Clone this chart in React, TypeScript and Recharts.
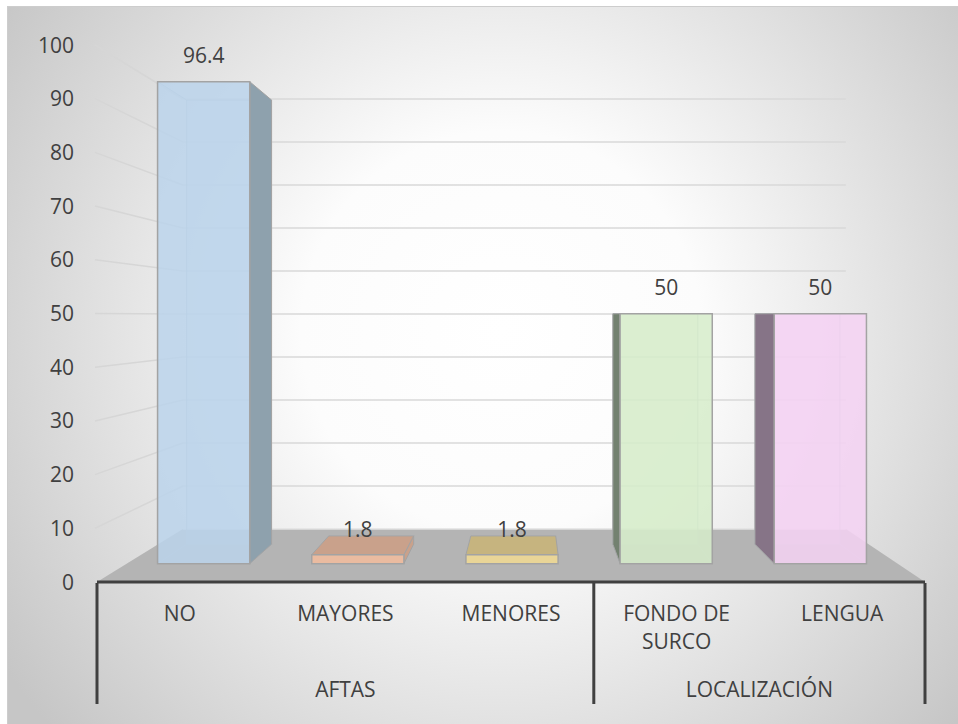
import React from 'react';
import { BarChart, Bar, XAxis, YAxis, CartesianGrid } from 'recharts';

// ---- data ----
const CATEGORIES = ['NO', 'MAYORES', 'MENORES', 'FONDO DE SURCO', 'LENGUA'];
const GROUPS = ['AFTAS', 'AFTAS', 'AFTAS', 'LOCALIZACIÓN', 'LOCALIZACIÓN'];
const VALUES = [96.4, 1.8, 1.8, 50, 50];
const Y_TICKS = [0, 10, 20, 30, 40, 50, 60, 70, 80, 90, 100];

// ---- styles ----
const FRONT_COLORS = ['#bbd4eb', '#f3bc9c', '#f2da92', '#d6ecca', '#f4d2f3'];
const SHADE_COLORS = ['#8ea1ad', '#c9a18b', '#c6b47f', '#738170', '#867487'];
const TEXT = '#404040';
const FONT = '"Open Sans", "Noto Sans", sans-serif';
const FS = 21;

const data = CATEGORIES.map((c, i) => ({ category: c, group: GROUPS[i], value: VALUES[i] }));

// layout / perspective
const W = 958;
const H = 724;
const PLOT_LEFT = 97;
const PLOT_RIGHT = 925;
const PLOT_TOP = 45;
const ROW1 = 76;
const ROW2 = 46;
const BOTTOM_MARGIN = 20;
const VX = 528;
const VY = 316;
const T_FRONT = 0.069;
const T_BACK = 0.142;
const T_WALL = 0.1993;

type P = [number, number];
const proj = (X: number, Y: number, t: number): P => [X + t * (VX - X), Y + t * (VY - Y)];
const pts = (arr: P[]) => arr.map((p) => `${p[0]},${p[1]}`).join(' ');

const GridLine = (props: any) => {
  const { x1, x2, y1, index } = props;
  const [bxL, by] = proj(x1, y1, T_WALL);
  const [bxR] = proj(x2, y1, T_WALL);
  const isBottom =
    props.height != null && props.y != null ? Math.abs(y1 - (props.y + props.height)) < 0.5 : index === 0;
  return (
    <g key={`gl-${index}`}>
      {isBottom && (
        <polygon points={pts([[x1, y1], [x2, y1], [bxR, by], [bxL, by]])} fill="#b4b4b4" stroke="none" />
      )}
      {!isBottom && <line x1={x1 - 2} y1={y1} x2={bxL} y2={by} stroke="#d6d6d6" strokeWidth={1.5} />}
      <line x1={bxL} y1={by} x2={bxR} y2={by} stroke={isBottom ? '#e2e2e2' : '#d9d9d9'} strokeWidth={1.5} />
    </g>
  );
};

const YTick = (props: any) => {
  const { x, y, payload } = props;
  return (
    <text x={x} y={y} dy={7.5} textAnchor="end" fill={TEXT} fontSize={FS} fontFamily={FONT}>
      {payload.value}
    </text>
  );
};

const wrap = (s: string, max = 9) => {
  const words = s.split(' ');
  const lines: string[] = [];
  let cur = '';
  words.forEach((w) => {
    const next = cur ? cur + ' ' + w : w;
    if (next.length > max && cur) {
      lines.push(cur);
      cur = w;
    } else cur = next;
  });
  if (cur) lines.push(cur);
  return lines;
};

const CatTick = (props: any) => {
  const { x, y, payload } = props;
  const lines = wrap(String(payload.value));
  return (
    <text x={x} y={y + 39} textAnchor="middle" fill={TEXT} fontSize={FS} fontFamily={FONT}>
      {lines.map((l, i) => (
        <tspan key={i} x={x} dy={i === 0 ? 0 : 28}>
          {l}
        </tspan>
      ))}
    </text>
  );
};

const GroupTick = (props: any) => {
  const { x, y, index } = props;
  const band = (PLOT_RIGHT - PLOT_LEFT) / GROUPS.length;
  const g = GROUPS[index];
  const start = GROUPS.indexOf(g);
  const end = GROUPS.lastIndexOf(g);
  const top = y - ROW1 + 1;
  const bot = y + ROW2;
  return (
    <g>
      {index === start && (
        <>
          <line x1={x - band / 2} y1={top} x2={x - band / 2} y2={bot} stroke="#404040" strokeWidth={3} />
          <text
            x={x + ((end - start) * band) / 2}
            y={y + 39}
            textAnchor="middle"
            fill={TEXT}
            fontSize={FS}
            fontFamily={FONT}
          >
            {g}
          </text>
        </>
      )}
      {index === GROUPS.length - 1 && (
        <line x1={x + band / 2} y1={top} x2={x + band / 2} y2={bot} stroke="#404040" strokeWidth={3} />
      )}
    </g>
  );
};

const Bar3D = (props: any) => {
  const { x, y, width, height, index, value } = props;
  if (width == null || height == null) return null;
  const xl = x;
  const xr = x + width;
  const yt = y;
  const yb = y + height;
  const f = (X: number, Y: number) => proj(X, Y, T_FRONT);
  const b = (X: number, Y: number) => proj(X, Y, T_BACK);
  const fTL = f(xl, yt), fTR = f(xr, yt), fBR = f(xr, yb), fBL = f(xl, yb);
  const bTL = b(xl, yt), bTR = b(xr, yt), bBR = b(xr, yb), bBL = b(xl, yb);
  const front = FRONT_COLORS[index % FRONT_COLORS.length];
  const shade = SHADE_COLORS[index % SHADE_COLORS.length];
  const stroke = '#a3a3a3';
  const topVisible = yt > VY;
  const showRight = xr < VX;
  const showLeft = xl > VX;
  const labelY = topVisible ? bTL[1] + 1 : fTL[1] - 19;
  const edge = { stroke: '#b2bcc4', strokeWidth: 1, strokeOpacity: 0.8 };
  return (
    <g>
      <polygon points={pts([bTL, bTR, bBR, bBL])} fill={front} fillOpacity={0.25} {...edge} />
      <line x1={fTL[0]} y1={fTL[1]} x2={bTL[0]} y2={bTL[1]} {...edge} />
      <line x1={fBL[0]} y1={fBL[1]} x2={bBL[0]} y2={bBL[1]} {...edge} />
      <line x1={fBR[0]} y1={fBR[1]} x2={bBR[0]} y2={bBR[1]} {...edge} />
      {showRight && <polygon points={pts([fTR, bTR, bBR, fBR])} fill={shade} stroke={stroke} strokeWidth={1} />}
      {showLeft && <polygon points={pts([fTL, bTL, bBL, fBL])} fill={shade} stroke={stroke} strokeWidth={1} />}
      {topVisible && <polygon points={pts([fTL, fTR, bTR, bTL])} fill={shade} stroke={stroke} strokeWidth={1} />}
      <polygon points={pts([fTL, fTR, fBR, fBL])} fill={front} fillOpacity={0.85} stroke={stroke} strokeWidth={1.5} />
      <text
        x={(fTL[0] + fTR[0]) / 2}
        y={labelY}
        textAnchor="middle"
        fill={TEXT}
        fontSize={FS}
        fontFamily={FONT}
      >
        {value}
      </text>
    </g>
  );
};

export default function App() {
  return (
    <div style={{ position: 'absolute', left: 0, top: 0, width: W, height: H, overflow: 'hidden' }}>
      <div
        style={{
          position: 'absolute',
          left: 7,
          top: 6,
          width: W - 7,
          height: H - 6,
          boxSizing: 'border-box',
          borderTop: '1px solid #cdcdcd',
          borderLeft: '1px solid #cdcdcd',
          background:
            'radial-gradient(circle 600px at 493px 324px, #ffffff 0px, #fcfcfc 200px, #c6c6c6 600px)',
        }}
      />
      <div style={{ position: 'absolute', left: 0, top: 0 }}>
        <BarChart
          width={W}
          height={H}
          data={data}
          barCategoryGap="20%"
          margin={{ top: PLOT_TOP, right: W - PLOT_RIGHT, left: 0, bottom: BOTTOM_MARGIN }}
        >
          <CartesianGrid xAxisId="cat" vertical={false} horizontal={(p: any) => <GridLine {...p} />} />
          <XAxis
            xAxisId="cat"
            dataKey="category"
            height={ROW1}
            tickSize={0}
            tickMargin={0}
            tickLine={false}
            axisLine={{ stroke: '#404040', strokeWidth: 3 }}
            tick={<CatTick />}
            interval={0}
          />
          <XAxis
            xAxisId="grp"
            dataKey="group"
            height={ROW2}
            tickSize={0}
            tickMargin={0}
            tickLine={false}
            axisLine={false}
            tick={<GroupTick />}
            interval={0}
            allowDuplicatedCategory={true}
          />
          <YAxis
            domain={[0, 100]}
            ticks={Y_TICKS}
            width={PLOT_LEFT}
            tickSize={0}
            tickMargin={23}
            axisLine={false}
            tickLine={false}
            tick={<YTick />}
            interval={0}
          />
          <Bar
            dataKey="value"
            xAxisId="cat"
            isAnimationActive={false}
            shape={(p: any) => <Bar3D {...p} />}
          />
        </BarChart>
      </div>
    </div>
  );
}
